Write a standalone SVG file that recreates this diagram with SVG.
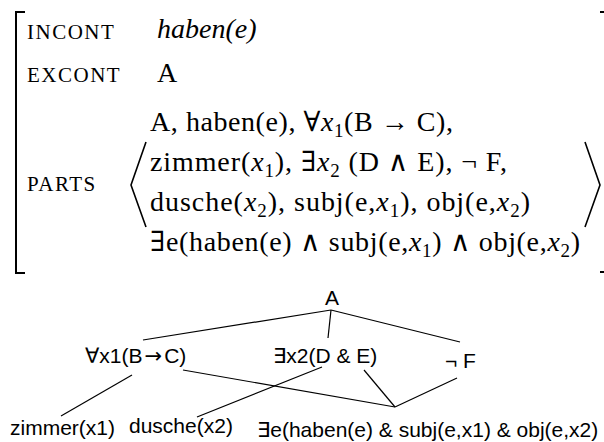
<svg xmlns="http://www.w3.org/2000/svg" width="604" height="442" viewBox="0 0 604 442">
<style>
.lbl{font-family:"Liberation Serif","DejaVu Serif",serif;font-size:21px;letter-spacing:1.5px;fill:#000}
.avm{font-family:"Liberation Serif","DejaVu Serif",serif;font-size:28px;fill:#000}
.it{font-style:italic}
.sub{font-size:19px}
.tree{font-family:"Liberation Sans","DejaVu Sans",sans-serif;font-size:21px;fill:#000}
.arr{font-family:"DejaVu Sans",sans-serif}
.br{fill:none;stroke:#000;stroke-width:2}
.ang{fill:none;stroke:#000;stroke-width:1.6}
.edge{stroke:#000;stroke-width:1.2;fill:none}
</style>
<rect width="604" height="442" fill="#fff"/>
<g id="avm">
  <path class="br" d="M25,12 H16 V273 H25"/>
  <path class="br" d="M600,12 H604 M600,272 H604"/>
  <text class="lbl" x="27" y="39">INCONT</text>
  <text class="avm it" x="157" y="38">haben(e)</text>
  <text class="lbl" x="27" y="82">EXCONT</text>
  <text class="avm" x="157" y="82">A</text>
  <text class="lbl" x="27" y="191">PARTS</text>
  <path class="ang" d="M146,142 L131,185 L146,227"/>
  <path class="ang" d="M585,142 L600,185 L585,227"/>
  <text class="avm" x="150" y="131" textLength="303" lengthAdjust="spacing">A, haben(e), ∀<tspan class="it">x</tspan><tspan class="sub" dy="6">1</tspan><tspan dy="-6">(B → C),</tspan></text>
  <text class="avm" x="150" y="171" textLength="357" lengthAdjust="spacing">zimmer(<tspan class="it">x</tspan><tspan class="sub" dy="6">1</tspan><tspan dy="-6">), ∃</tspan><tspan class="it">x</tspan><tspan class="sub" dy="6">2</tspan><tspan dy="-6"> (D ∧ E), ¬ F,</tspan></text>
  <text class="avm" x="150" y="211" textLength="380" lengthAdjust="spacing">dusche(<tspan class="it">x</tspan><tspan class="sub" dy="6">2</tspan><tspan dy="-6">), subj(e,</tspan><tspan class="it">x</tspan><tspan class="sub" dy="6">1</tspan><tspan dy="-6">), obj(e,</tspan><tspan class="it">x</tspan><tspan class="sub" dy="6">2</tspan><tspan dy="-6">)</tspan></text>
  <text class="avm" x="150" y="251" textLength="430" lengthAdjust="spacing">∃e(haben(e) ∧ subj(e,<tspan class="it">x</tspan><tspan class="sub" dy="6">1</tspan><tspan dy="-6">) ∧ obj(e,</tspan><tspan class="it">x</tspan><tspan class="sub" dy="6">2</tspan><tspan dy="-6">)</tspan></text>
</g>
<g id="connectors">
  <line class="edge" x1="331" y1="310" x2="143" y2="340"/>
  <line class="edge" x1="331" y1="310" x2="328" y2="338"/>
  <line class="edge" x1="331" y1="310" x2="460" y2="342"/>
  <line class="edge" x1="132" y1="375" x2="61" y2="416"/>
  <line class="edge" x1="322" y1="367" x2="197" y2="417"/>
  <line class="edge" x1="183" y1="370" x2="395" y2="407"/>
  <line class="edge" x1="364" y1="370" x2="395" y2="407"/>
  <line class="edge" x1="457" y1="378" x2="395" y2="407"/>
</g>
<g id="node-A"><text class="tree" x="332" y="305" text-anchor="middle">A</text></g>
<g id="node-forall"><text class="tree" x="85" y="363">∀x1(B<tspan class="arr" dx="2">→</tspan><tspan dx="2">C)</tspan></text></g>
<g id="node-exists"><text class="tree" x="273" y="363">∃x2(D &amp; E)</text></g>
<g id="node-notF"><text class="tree" x="445" y="368">¬ F</text></g>
<g id="node-zimmer"><text class="tree" x="10" y="435">zimmer(x1)</text></g>
<g id="node-dusche"><text class="tree" x="129" y="433">dusche(x2)</text></g>
<g id="node-haben"><text class="tree" x="257" y="437">∃e(haben(e) &amp; subj(e,x1) &amp; obj(e,x2)</text></g>
</svg>
